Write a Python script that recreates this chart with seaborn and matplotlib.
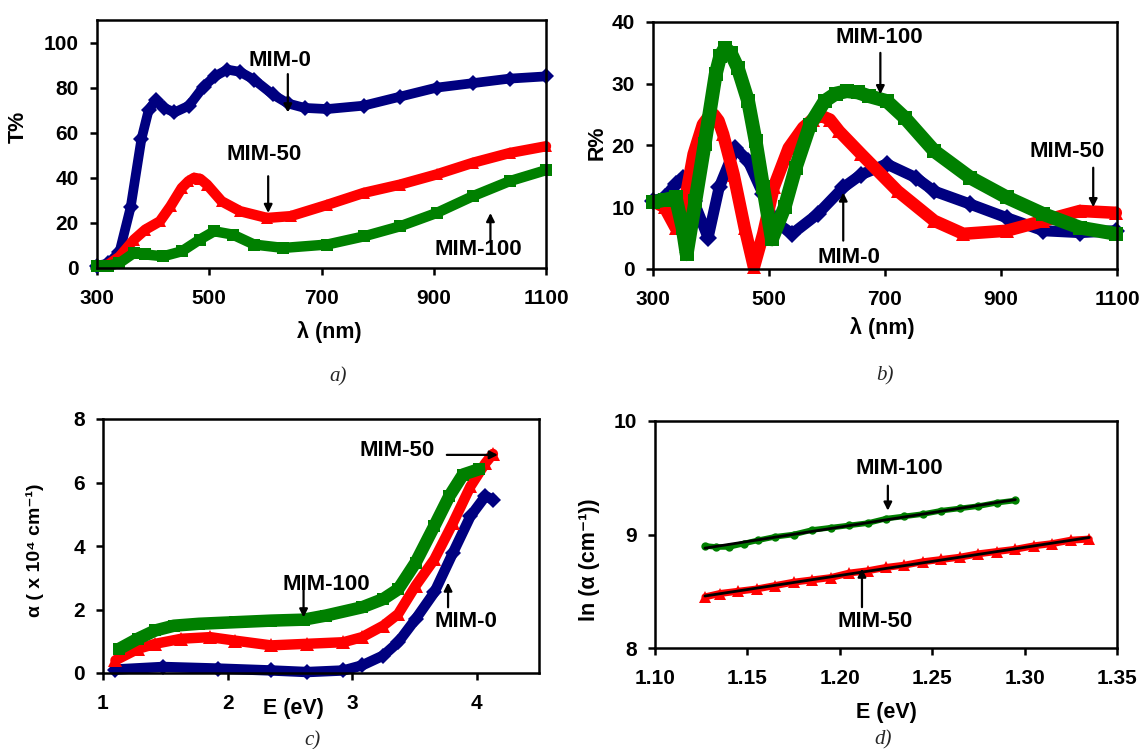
import matplotlib
matplotlib.use("Agg")
import matplotlib.pyplot as plt
import seaborn as sns

# ---------------- data ----------------
# a) transmittance T% vs wavelength
a_wl_0 = [300, 320, 340, 360, 379, 392, 405, 420, 438, 464, 490, 510, 532, 555, 580, 613, 640, 670, 710, 775, 840, 905, 970, 1035, 1100]
a_T_0 = [1, 2, 7, 27, 57, 70, 74.5, 71, 69, 72, 80.5, 85, 88, 87, 83.5, 77, 73, 71, 70.5, 72, 76, 80, 82, 84, 85]
a_wl_50 = [300, 320, 340, 366, 386, 412, 431, 451, 463, 473, 484, 496, 522, 555, 603, 645, 710, 775, 840, 905, 970, 1035, 1100]
a_T_50 = [0.7, 1.5, 5, 12.6, 17, 20.7, 27.4, 35.5, 38.5, 40, 39.5, 37, 29.6, 25.2, 22.2, 23, 28, 33.3, 37, 41.5, 46.7, 51, 54]
a_wl_100 = [300, 320, 340, 366, 386, 418, 451, 483, 509, 542, 580, 632, 710, 775, 840, 905, 970, 1035, 1100]
a_T_100 = [0.7, 1, 2.2, 6.7, 6, 5.2, 7.4, 12.6, 16.3, 14.8, 10.4, 8.9, 10.4, 14, 18.5, 24.4, 31.9, 38.5, 43.4]

# b) reflectance R% vs wavelength
b_wl_0 = [300, 320, 339, 351, 370, 395, 414, 442, 464, 490, 508, 540, 584, 628, 659, 703, 753, 785, 847, 910, 973, 1036, 1098]
b_R_0 = [11, 11.6, 13.7, 14.8, 11, 5.1, 13.2, 19.6, 17.5, 12.1, 7.8, 5.7, 8.9, 13.2, 15.3, 17, 14.8, 12.6, 10.5, 8.3, 6.2, 5.9, 6.2]
b_wl_50 = [300, 320, 339, 351, 370, 386, 397, 405, 413, 421, 439, 458, 474, 490, 508, 534, 559, 575, 590, 605, 621, 659, 722, 785, 835, 910, 973, 1036, 1098]
b_R_50 = [11, 10, 6.7, 8.9, 18.6, 23.4, 24.8, 25, 24, 21.8, 15.3, 6.7, 0.3, 5.7, 13.2, 19.6, 22.9, 24.2, 24.8, 24.2, 22.3, 18.6, 12.6, 7.8, 5.7, 6.2, 7.8, 9.4, 9.1]
b_wl_100 = [300, 320, 339, 351, 358, 373, 389, 408, 416, 424, 434, 446, 464, 477, 490, 505, 527, 546, 571, 596, 615, 634, 653, 672, 703, 734, 785, 847, 910, 973, 1036, 1098]
b_R_100 = [10.8, 11.2, 11.6, 6.7, 2.4, 11, 20.2, 31.5, 34.5, 35.8, 35.0, 32.6, 27.2, 20.7, 13.2, 4.8, 10, 16.4, 23.4, 27.2, 28.4, 28.8, 28.6, 28, 27.2, 24.5, 19.1, 14.8, 11.6, 8.9, 6.7, 5.7]

# c) absorption coefficient alpha (x1e4 cm-1) vs photon energy
c_E_0 = [1.10, 1.48, 1.92, 2.35, 2.64, 2.93, 3.08, 3.25, 3.37, 3.51, 3.66, 3.81, 3.95, 4.07, 4.13]
c_a_0 = [0.11, 0.19, 0.14, 0.08, 0.03, 0.08, 0.24, 0.55, 0.97, 1.7, 2.54, 3.79, 4.94, 5.57, 5.46]
c_E_50 = [1.10, 1.28, 1.42, 1.63, 1.86, 2.06, 2.35, 2.64, 2.93, 3.08, 3.25, 3.37, 3.51, 3.66, 3.81, 3.95, 4.07, 4.13]
c_a_50 = [0.4, 0.76, 0.92, 1.08, 1.13, 1.02, 0.87, 0.92, 0.97, 1.13, 1.49, 1.86, 2.75, 3.58, 4.73, 5.88, 6.61, 6.9]
c_E_100 = [1.13, 1.28, 1.42, 1.57, 1.77, 2.06, 2.35, 2.61, 2.79, 3.08, 3.25, 3.37, 3.51, 3.66, 3.78, 3.89, 4.02]
c_a_100 = [0.76, 1.08, 1.34, 1.49, 1.55, 1.6, 1.65, 1.68, 1.81, 2.07, 2.33, 2.64, 3.48, 4.63, 5.57, 6.25, 6.42]

# d) ln(alpha) vs E (Urbach region)
d_E_100 = [1.127, 1.133, 1.140, 1.148, 1.156, 1.165, 1.175, 1.185, 1.195, 1.205, 1.215, 1.225, 1.235, 1.245, 1.255, 1.265, 1.275, 1.285, 1.295]
d_ln_100 = [8.90, 8.89, 8.89, 8.92, 8.95, 8.98, 9.00, 9.04, 9.06, 9.08, 9.10, 9.14, 9.16, 9.18, 9.21, 9.23, 9.25, 9.28, 9.30]
d_E_50 = [1.127, 1.135, 1.145, 1.155, 1.165, 1.175, 1.185, 1.195, 1.205, 1.215, 1.225, 1.235, 1.245, 1.255, 1.265, 1.275, 1.285, 1.295, 1.305, 1.315, 1.325, 1.335]
d_ln_50 = [8.45, 8.48, 8.50, 8.52, 8.55, 8.58, 8.60, 8.62, 8.66, 8.68, 8.71, 8.73, 8.76, 8.78, 8.80, 8.83, 8.85, 8.87, 8.90, 8.92, 8.95, 8.96]

a_xticks = [300, 500, 700, 900, 1100]
a_yticks = [0, 20, 40, 60, 80, 100]
b_yticks = [0, 10, 20, 30, 40]
c_xticks = [1, 2, 3, 4]
c_yticks = [0, 2, 4, 6, 8]
d_xticks = [1.10, 1.15, 1.20, 1.25, 1.30, 1.35]
d_yticks = [8, 9, 10]

NAVY, RED, GREEN = "#000080", "#FF0000", "#008000"

# ---------------- style ----------------
sns.set_style("ticks")
plt.rcParams['font.family'] = ['Liberation Sans', 'DejaVu Sans']
plt.rcParams['font.weight'] = 'bold'

W, H = 1143, 749
fig = plt.figure(figsize=(W / 100, H / 100), dpi=100)


def box(l, r, t, b):
    return [l / W, (H - b) / H, (r - l) / W, (b - t) / H]


axa = fig.add_axes(box(97, 546, 20, 268))
axb = fig.add_axes(box(653, 1117, 22, 269))
axc = fig.add_axes(box(103, 539, 419, 673))
axd = fig.add_axes(box(655, 1117, 421, 648))

TICK_FS = 15


def style(ax):
    for s in ax.spines.values():
        s.set_visible(True)
        s.set_linewidth(1.8)
        s.set_color('black')
    ax.tick_params(direction='out', length=5, width=1.8, labelsize=TICK_FS,
                   colors='black')
    ax.tick_params(axis='x', pad=10)
    ax.tick_params(axis='y', pad=8)
    for lab in ax.get_xticklabels() + ax.get_yticklabels():
        lab.set_fontweight('bold')


def series(ax, x, y, color, marker, lw, ms):
    sns.lineplot(x=x, y=y, ax=ax, color=color, linewidth=lw, marker=marker,
                 markersize=ms, markeredgewidth=0, sort=False, estimator=None,
                 clip_on=False, solid_joinstyle='round', solid_capstyle='round')


def note(ax, text, xy_text, start, end):
    ax.text(xy_text[0], xy_text[1], text, ha='center', va='center',
            fontsize=16, fontweight='bold', color='black')
    ax.annotate('', xy=end, xytext=start,
                arrowprops=dict(arrowstyle='-|>', color='black', lw=1.6,
                                mutation_scale=12, shrinkA=0, shrinkB=0))


def axis_text(ax, x, y, text, rot=0, size=15.5):
    ax.text(x, y, text, transform=ax.transAxes, ha='center', va='center',
            rotation=rot, fontsize=size, fontweight='bold', color='black')


# ---------------- a) ----------------
series(axa, a_wl_0, a_T_0, NAVY, 'D', 7, 8)
series(axa, a_wl_50, a_T_50, RED, '^', 7.5, 9)
series(axa, a_wl_100, a_T_100, GREEN, 's', 7.5, 8)
axa.set_xlim(300, 1100)
axa.set_ylim(0, 110)
axa.set_xticks(a_xticks)
axa.set_yticks(a_yticks)
axa.set_xlabel('')
axa.set_ylabel('')
style(axa)
note(axa, 'MIM-0', (626, 92), (640, 86), (640, 69))
note(axa, 'MIM-50', (597, 50.4), (605, 40.7), (605, 24.4))
note(axa, 'MIM-100', (980, 8.4), (1001, 11.9), (1001, 24.4))
axis_text(axa, 0.518, -0.258, 'λ (nm)')
axis_text(axa, -0.176, 0.569, 'T%', rot=90)

# ---------------- b) ----------------
series(axb, b_wl_0, b_R_0, NAVY, 'D', 8, 9)
series(axb, b_wl_50, b_R_50, RED, '^', 9, 10)
series(axb, b_wl_100, b_R_100, GREEN, 's', 10, 10)
axb.set_xlim(300, 1100)
axb.set_ylim(0, 40)
axb.set_xticks(a_xticks)
axb.set_yticks(b_yticks)
axb.set_xlabel('')
axb.set_ylabel('')
style(axb)
note(axb, 'MIM-100', (690, 37.5), (692, 35), (692, 28.3))
note(axb, 'MIM-50', (1014, 19), (1059, 16.4), (1059, 10))
note(axb, 'MIM-0', (637, 1.9), (628, 4.6), (628, 12.4))
axis_text(axb, 0.495, -0.239, 'λ (nm)')
axis_text(axb, -0.121, 0.51, 'R%', rot=90)

# ---------------- c) ----------------
series(axc, c_E_0, c_a_0, NAVY, 'D', 7.5, 8)
series(axc, c_E_50, c_a_50, RED, '^', 7.5, 10)
series(axc, c_E_100, c_a_100, GREEN, 's', 9, 9)
axc.set_xlim(1, 4.5)
axc.set_ylim(0, 8)
axc.set_xticks(c_xticks)
axc.set_yticks(c_yticks)
axc.set_xlabel('')
axc.set_ylabel('')
style(axc)
note(axc, 'MIM-50', (3.36, 7.0), (3.76, 6.87), (4.17, 6.87))
note(axc, 'MIM-100', (2.79, 2.8), (2.61, 2.64), (2.61, 1.75))
note(axc, 'MIM-0', (3.91, 1.62), (3.77, 2.07), (3.77, 2.85))
axis_text(axc, 0.437, -0.138, 'E (eV)')
axis_text(axc, -0.156, 0.484, 'α ( x 10⁴ cm⁻¹)', rot=90, size=14)

# ---------------- d) ----------------
series(axd, d_E_100, d_ln_100, GREEN, 'o', 4, 6)
series(axd, d_E_50, d_ln_50, RED, '^', 5, 8)
sns.regplot(x=d_E_100, y=d_ln_100, ax=axd, scatter=False, ci=None,
            color='black', line_kws={'lw': 2})
sns.regplot(x=d_E_50, y=d_ln_50, ax=axd, scatter=False, ci=None,
            color='black', line_kws={'lw': 2})
axd.set_xlim(1.10, 1.35)
axd.set_ylim(8, 10)
axd.set_xticks(d_xticks)
axd.set_xticklabels([f'{v:.2f}' for v in d_xticks])
axd.set_yticks(d_yticks)
axd.set_xlabel('')
axd.set_ylabel('')
style(axd)
note(axd, 'MIM-100', (1.232, 9.58), (1.226, 9.43), (1.226, 9.21))
note(axd, 'MIM-50', (1.219, 8.23), (1.212, 8.36), (1.212, 8.70))
axis_text(axd, 0.5, -0.282, 'E (eV)')
axis_text(axd, -0.141, 0.388, 'ln (α (cm⁻¹))', rot=90)

# ---------------- captions ----------------
for txt, x, y in [('a)', 338, 377), ('b)', 885, 376), ('c)', 312, 741), ('d)', 883, 740)]:
    fig.text(x / W, 1 - y / H, txt, ha='center', va='center', fontsize=15,
             family=['Liberation Serif', 'DejaVu Serif'], style='italic',
             fontweight='normal')

fig.savefig('out.png', dpi=100)
